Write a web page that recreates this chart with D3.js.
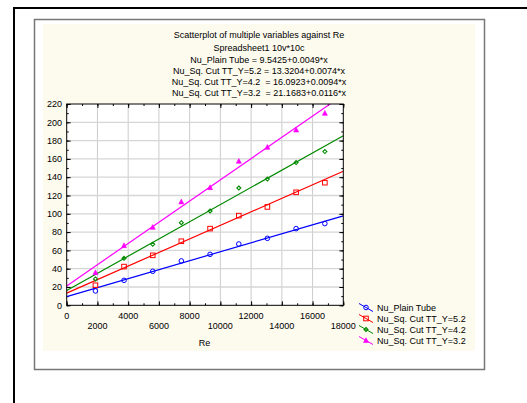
<!DOCTYPE html>
<html>
<head>
<meta charset="utf-8">
<script src="https://cdn.jsdelivr.net/npm/d3@7"></script>
<style>
body { margin: 0; background: #fff; }
text { font-family: "Liberation Sans", Arial, sans-serif; fill: #000; }
</style>
</head>
<body>
<div id="main"></div>
<script>
// data
var re = [1870, 3730, 5600, 7460, 9330, 11200, 13060, 14930, 16800];
var plainTube = [15.7, 27.3, 37.2, 48.5, 55.7, 67.0, 73.2, 83.8, 89.3];
var cutY52 = [21.9, 42.3, 54.6, 70.0, 83.8, 98.0, 107.5, 123.5, 134.0];
var cutY42 = [28.8, 51.4, 66.7, 90.3, 103.1, 128.2, 138.0, 156.0, 168.0];
var cutY32 = [35.7, 65.2, 85.2, 113.0, 128.6, 157.4, 172.7, 191.6, 209.8];
var seriesNames = ["Nu_Plain Tube", "Nu_Sq. Cut TT_Y=5.2", "Nu_Sq. Cut TT_Y=4.2", "Nu_Sq. Cut TT_Y=3.2"];
var intercepts = [9.5425, 13.3204, 16.0923, 21.1683];
var slopes = [0.0049, 0.0074, 0.0094, 0.0116];
var colors = ["#0000ff", "#ff0000", "#008a00", "#ff00ff"];
var titleLines = [
	"Scatterplot of multiple variables against Re",
	"Spreadsheet1 10v*10c",
	"Nu_Plain Tube = 9.5425+0.0049*x",
	"Nu_Sq. Cut TT_Y=5.2 = 13.3204+0.0074*x",
	"Nu_Sq. Cut TT_Y=4.2  = 16.0923+0.0094*x",
	"Nu_Sq. Cut TT_Y=3.2  = 21.1683+0.0116*x"
];
var xTicks = [0, 2000, 4000, 6000, 8000, 10000, 12000, 14000, 16000, 18000];
var yTicks = [0, 20, 40, 60, 80, 100, 120, 140, 160, 180, 200, 220];

var allY = [plainTube, cutY52, cutY42, cutY32];

var svg = d3.select("#main").append("svg")
	.attr("width", 527)
	.attr("height", 403);

// outer page frame
svg.append("path")
	.attr("d", "M14,403 L14,8 L527,8")
	.style("fill", "none")
	.style("stroke", "#000")
	.style("stroke-width", 2);

// graph window frame
svg.append("rect")
	.attr("x", 34.5).attr("y", 19.5)
	.attr("width", 450).attr("height", 350)
	.style("fill", "#fff")
	.style("stroke", "#777")
	.style("stroke-width", 1.5);

svg.append("rect")
	.attr("x", 43).attr("y", 24)
	.attr("width", 432).attr("height", 327)
	.style("fill", "#fdfaee");

var pLeft = 66.7, pRight = 343.3, pTop = 104, pBottom = 305.3;

var x = d3.scaleLinear().domain([0, 18000]).range([pLeft, pRight]);
var y = d3.scaleLinear().domain([0, 220]).range([pBottom, pTop]);

var plot = svg.append("g");

plot.append("rect")
	.attr("x", pLeft).attr("y", pTop)
	.attr("width", pRight - pLeft).attr("height", pBottom - pTop)
	.style("fill", "#fff");

// grid
plot.selectAll(".vgrid").data(xTicks.slice(1, -1)).enter().append("line")
	.attr("x1", function(d) { return x(d); })
	.attr("x2", function(d) { return x(d); })
	.attr("y1", pTop).attr("y2", pBottom)
	.style("stroke", "#cccccc").style("stroke-width", 1);

plot.selectAll(".hgrid").data(yTicks.slice(1, -1)).enter().append("line")
	.attr("y1", function(d) { return y(d); })
	.attr("y2", function(d) { return y(d); })
	.attr("x1", pLeft).attr("x2", pRight)
	.style("stroke", "#d6d6d6").style("stroke-width", 1.3);

// axes with inward ticks (minor, then major)
var xMinor = d3.range(0, 18001, 1000);
var yMinor = d3.range(0, 221, 10);

function tickAxis(axis, transform) {
	var g = plot.append("g").attr("transform", transform).call(axis);
	g.select(".domain").remove();
	g.selectAll(".tick line").style("stroke", "#000");
	g.selectAll(".tick text").remove();
}
tickAxis(d3.axisBottom(x).tickValues(xMinor).tickSize(-2), "translate(0," + pBottom + ")");
tickAxis(d3.axisTop(x).tickValues(xMinor).tickSize(-2), "translate(0," + pTop + ")");
tickAxis(d3.axisLeft(y).tickValues(yMinor).tickSize(-2), "translate(" + pLeft + ",0)");
tickAxis(d3.axisRight(y).tickValues(yMinor).tickSize(-2), "translate(" + pRight + ",0)");
tickAxis(d3.axisBottom(x).tickValues(xTicks).tickSize(-4), "translate(0," + pBottom + ")");
tickAxis(d3.axisTop(x).tickValues(xTicks).tickSize(-4), "translate(0," + pTop + ")");
tickAxis(d3.axisLeft(y).tickValues(yTicks).tickSize(-4), "translate(" + pLeft + ",0)");
tickAxis(d3.axisRight(y).tickValues(yTicks).tickSize(-4), "translate(" + pRight + ",0)");

// tick labels
svg.selectAll(".xlab").data(xTicks).enter().append("text")
	.attr("x", function(d) { return x(d); })
	.attr("y", function(d, i) { return i % 2 === 0 ? 318.5 : 328.5; })
	.attr("text-anchor", "middle")
	.style("font-size", "9px")
	.text(function(d) { return d; });

svg.selectAll(".ylab").data(yTicks).enter().append("text")
	.attr("x", 62)
	.attr("y", function(d) { return y(d) + 3.2; })
	.attr("text-anchor", "end")
	.style("font-size", "9px")
	.text(function(d) { return d; });

svg.append("text")
	.attr("x", (pLeft + pRight) / 2 - 0.5).attr("y", 345.5)
	.attr("text-anchor", "middle")
	.style("font-size", "9px")
	.text("Re");

// title
var titleY = [37.5, 50.5, 62.5, 73.5, 84.5, 95.5];
svg.selectAll(".title").data(titleLines).enter().append("text")
	.attr("x", 259)
	.attr("y", function(d, i) { return titleY[i]; })
	.attr("text-anchor", "middle")
	.style("font-size", "9px")
	.style("white-space", "pre")
	.text(function(d) { return d; });

// regression lines, clipped to plot
svg.append("clipPath").attr("id", "clip")
	.append("rect")
	.attr("x", pLeft).attr("y", pTop)
	.attr("width", pRight - pLeft).attr("height", pBottom - pTop);

var fit = svg.append("g").attr("clip-path", "url(#clip)");
intercepts.forEach(function(b, i) {
	fit.append("line")
		.attr("x1", x(0)).attr("y1", y(b))
		.attr("x2", x(18000)).attr("y2", y(b + slopes[i] * 18000))
		.style("stroke", colors[i])
		.style("stroke-width", 1.2);
});

// markers
function drawMarker(g, kind, cx, cy, color) {
	if (kind === 0) {
		g.append("circle").attr("cx", cx).attr("cy", cy).attr("r", 2.3)
			.style("fill", "none").style("stroke", color).style("stroke-width", 1);
	} else if (kind === 1) {
		g.append("rect").attr("x", cx - 2.3).attr("y", cy - 2.3)
			.attr("width", 4.6).attr("height", 4.6)
			.style("fill", "none").style("stroke", color).style("stroke-width", 1);
	} else if (kind === 2) {
		g.append("path")
			.attr("d", "M" + cx + "," + (cy - 2) + " L" + (cx + 2) + "," + cy + " L" + cx + "," + (cy + 2) + " L" + (cx - 2) + "," + cy + "Z")
			.style("fill", "none").style("stroke", color).style("stroke-width", 1.1);
	} else {
		g.append("path")
			.attr("d", "M" + cx + "," + (cy - 2.8) + " L" + (cx + 2.5) + "," + (cy + 2) + " L" + (cx - 2.5) + "," + (cy + 2) + "Z")
			.style("fill", color).style("stroke", color).style("stroke-width", 0.6);
	}
}

var marks = svg.append("g");
allY.forEach(function(vals, i) {
	vals.forEach(function(v, j) {
		drawMarker(marks, i, x(re[j]), y(v), colors[i]);
	});
});

// plot border
svg.append("rect")
	.attr("x", pLeft).attr("y", pTop)
	.attr("width", pRight - pLeft).attr("height", pBottom - pTop)
	.style("fill", "none")
	.style("stroke", "#000")
	.style("stroke-width", 1);

// legend
var legendY = [307.5, 318.5, 329.5, 340.5];
seriesNames.forEach(function(name, i) {
	var ly = legendY[i];
	svg.append("line")
		.attr("x1", 359).attr("y1", ly - 4)
		.attr("x2", 373).attr("y2", ly + 4)
		.style("stroke", colors[i]).style("stroke-width", 1);
	drawMarker(svg, i, 366, ly, colors[i]);
	svg.append("text")
		.attr("x", 377).attr("y", ly + 3.3)
		.style("font-size", "9px")
		.text(name);
});
</script>
</body>
</html>
